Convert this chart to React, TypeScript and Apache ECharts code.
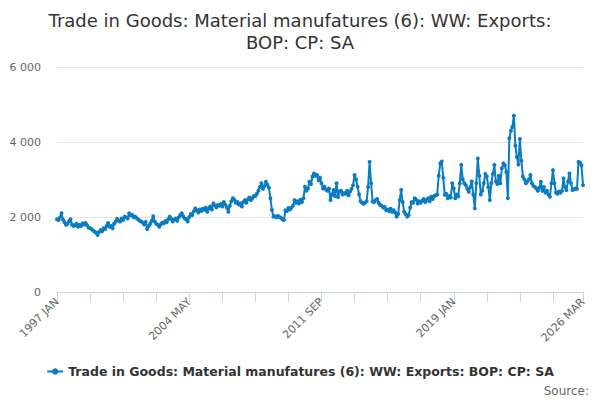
import React, { useEffect, useRef } from "react";
import * as echarts from "echarts";

const MONTHS = ["JAN", "FEB", "MAR", "APR", "MAY", "JUN", "JUL", "AUG", "SEP", "OCT", "NOV", "DEC"];
const FIRST_YEAR = 1997;

// monthly values, £ million
const v1997 = [1940, 1920, 1990, 2100, 1930, 1860, 1790, 1820, 1890, 1940, 1800, 1760];
const v1998 = [1780, 1820, 1740, 1790, 1760, 1830, 1800, 1840, 1780, 1720, 1700, 1680];
const v1999 = [1640, 1610, 1580, 1520, 1600, 1650, 1620, 1700, 1680, 1760, 1840, 1740];
const v2000 = [1760, 1700, 1820, 1880, 1950, 1900, 1880, 1960, 1920, 2010, 1990, 1960];
const v2001 = [2100, 2040, 2060, 1990, 2010, 1970, 1940, 1900, 1880, 1850, 1800, 1870];
const v2002 = [1680, 1760, 1820, 1900, 2020, 1880, 1820, 1790, 1740, 1800, 1850, 1830];
const v2003 = [1890, 1860, 1940, 2010, 1950, 1880, 1930, 1960, 1900, 1990, 2050, 2100];
const v2004 = [2020, 1960, 1940, 1880, 2000, 2080, 2050, 2150, 2230, 2180, 2120, 2200];
const v2005 = [2160, 2220, 2190, 2250, 2140, 2230, 2280, 2200, 2360, 2310, 2260, 2320];
const v2006 = [2300, 2350, 2280, 2400, 2330, 2250, 2140, 2300, 2420, 2500, 2460, 2380];
const v2007 = [2400, 2330, 2360, 2280, 2400, 2450, 2380, 2470, 2520, 2450, 2500, 2560];
const v2008 = [2560, 2620, 2700, 2800, 2900, 2750, 2820, 2940, 2860, 2780, 2500, 2190];
const v2009 = [2010, 2020, 1990, 2030, 2000, 1980, 1940, 1920, 2180, 2160, 2240, 2200];
const v2010 = [2250, 2300, 2450, 2380, 2420, 2360, 2460, 2400, 2500, 2810, 2700, 2760];
const v2011 = [2940, 2880, 3080, 3160, 3100, 3120, 2980, 3050, 2900, 2760, 2810, 2730];
const v2012 = [2700, 2760, 2450, 2600, 2720, 2560, 2900, 2530, 2680, 2700, 2600, 2640];
const v2013 = [2620, 2700, 2580, 2680, 2750, 2850, 3120, 3000, 2810, 2600, 2420, 2380];
const v2014 = [2350, 2380, 2420, 2800, 3470, 2900, 2410, 2400, 2450, 2480, 2380, 2320];
const v2015 = [2300, 2250, 2270, 2180, 2200, 2150, 2220, 2140, 2180, 2120, 2010, 2080];
const v2016 = [2450, 2720, 2400, 2140, 2080, 2010, 2050, 2250, 2400, 2380, 2500, 2460];
const v2017 = [2360, 2420, 2380, 2430, 2480, 2400, 2450, 2500, 2420, 2540, 2480, 2560];
const v2018 = [2580, 2600, 3100, 3430, 3480, 3050, 2590, 2620, 2500, 2560, 2520, 2900];
const v2019 = [2760, 2500, 2600, 2550, 2900, 3390, 3000, 2900, 2850, 2750, 2670, 2800];
const v2020 = [2950, 2600, 2230, 2900, 3560, 3100, 2600, 2700, 2900, 3150, 3080, 2800];
const v2021 = [2450, 2900, 3150, 3390, 2950, 2880, 3100, 2900, 3300, 3430, 3380, 3200];
const v2022 = [2500, 4100, 4300, 4400, 4700, 3900, 3600, 3400, 4080, 3500, 3080, 3000];
const v2023 = [2900, 2950, 3000, 3120, 2900, 2830, 2800, 2760, 2700, 2780, 2940, 2700];
const v2024 = [2800, 2650, 2700, 2600, 2540, 2900, 3250, 2900, 2650, 2620, 2680, 2650];
const v2025 = [2700, 3030, 2800, 2720, 2950, 3160, 2900, 2720, 2740, 2760, 2750, 3470];
const v2026 = [3450, 3380, 2850];

const yearly = [
	v1997, v1998, v1999, v2000, v2001, v2002, v2003, v2004, v2005, v2006,
	v2007, v2008, v2009, v2010, v2011, v2012, v2013, v2014, v2015, v2016,
	v2017, v2018, v2019, v2020, v2021, v2022, v2023, v2024, v2025, v2026,
];

const values: number[] = [];
const categories: string[] = [];
yearly.forEach((arr, yi) => {
	arr.forEach((v, m) => {
		values.push(v);
		categories.push(`${FIRST_YEAR + yi} ${MONTHS[m]}`);
	});
});
const lastIdx = categories.length - 1;

const seriesName = "Trade in Goods: Material manufatures (6): WW: Exports: BOP: CP: SA";
const FONT = "DejaVu Sans";

export default function App() {
	const chartRef = useRef<HTMLDivElement>(null);

	useEffect(() => {
		if (!chartRef.current) return;
		const chart = echarts.init(chartRef.current, undefined, { renderer: "svg" });

		const option: echarts.EChartsOption = {
			animation: false,
			textStyle: { fontFamily: FONT },
			title: {
				text: "Trade in Goods: Material manufatures (6): WW: Exports:\nBOP: CP: SA",
				left: "center",
				top: 4,
				textStyle: {
					fontFamily: FONT,
					fontSize: 18,
					fontWeight: "normal",
					color: "#333333",
					lineHeight: 22,
				},
			},
			grid: { left: 57, right: 17, top: 67, bottom: 108, containLabel: false },
			xAxis: {
				type: "category",
				data: categories,
				boundaryGap: false,
				axisLine: { lineStyle: { color: "#ccd6eb" } },
				axisTick: {
					length: 10,
					lineStyle: { color: "#ccd6eb" },
					interval: (i: number) => i % 22 === 0 || i === lastIdx,
				},
				axisLabel: {
					rotate: 45,
					color: "#666666",
					fontSize: 11,
					fontFamily: FONT,
					margin: 8,
					interval: (i: number) => i % 88 === 0 || i === lastIdx,
				},
				splitLine: { show: false },
			},
			yAxis: {
				type: "value",
				min: 0,
				max: 6000,
				interval: 2000,
				axisLine: { show: false },
				axisTick: { show: false },
				axisLabel: {
					color: "#666666",
					fontSize: 11,
					fontFamily: FONT,
					margin: 16,
					formatter: (v: number) => String(v).replace(/\B(?=(\d{3})+(?!\d))/g, " "),
				},
				splitLine: { lineStyle: { color: "#e6e6e6" } },
			},
			legend: {
				bottom: 17,
				left: "center",
				itemWidth: 16,
				itemHeight: 8,
				itemGap: 5,
				textStyle: { fontFamily: FONT, fontSize: 12.5, fontWeight: "bold", color: "#333333" },
				data: [seriesName],
			},
			graphic: [
				{
					type: "text",
					right: 11,
					bottom: 3,
					style: { text: "Source:", fontFamily: FONT, fontSize: 12, fill: "#666666" },
				},
			],
			series: [
				{
					name: seriesName,
					type: "line",
					data: values,
					color: "#0c7cc0",
					symbol: "circle",
					symbolSize: 4,
					showSymbol: true,
					showAllSymbol: true,
					lineStyle: { width: 2 },
				},
			],
		};

		chart.setOption(option);
		return () => {
			chart.dispose();
		};
	}, []);

	return <div ref={chartRef} style={{ position: "absolute", left: 0, top: 0, width: 600, height: 400 }} />;
}
